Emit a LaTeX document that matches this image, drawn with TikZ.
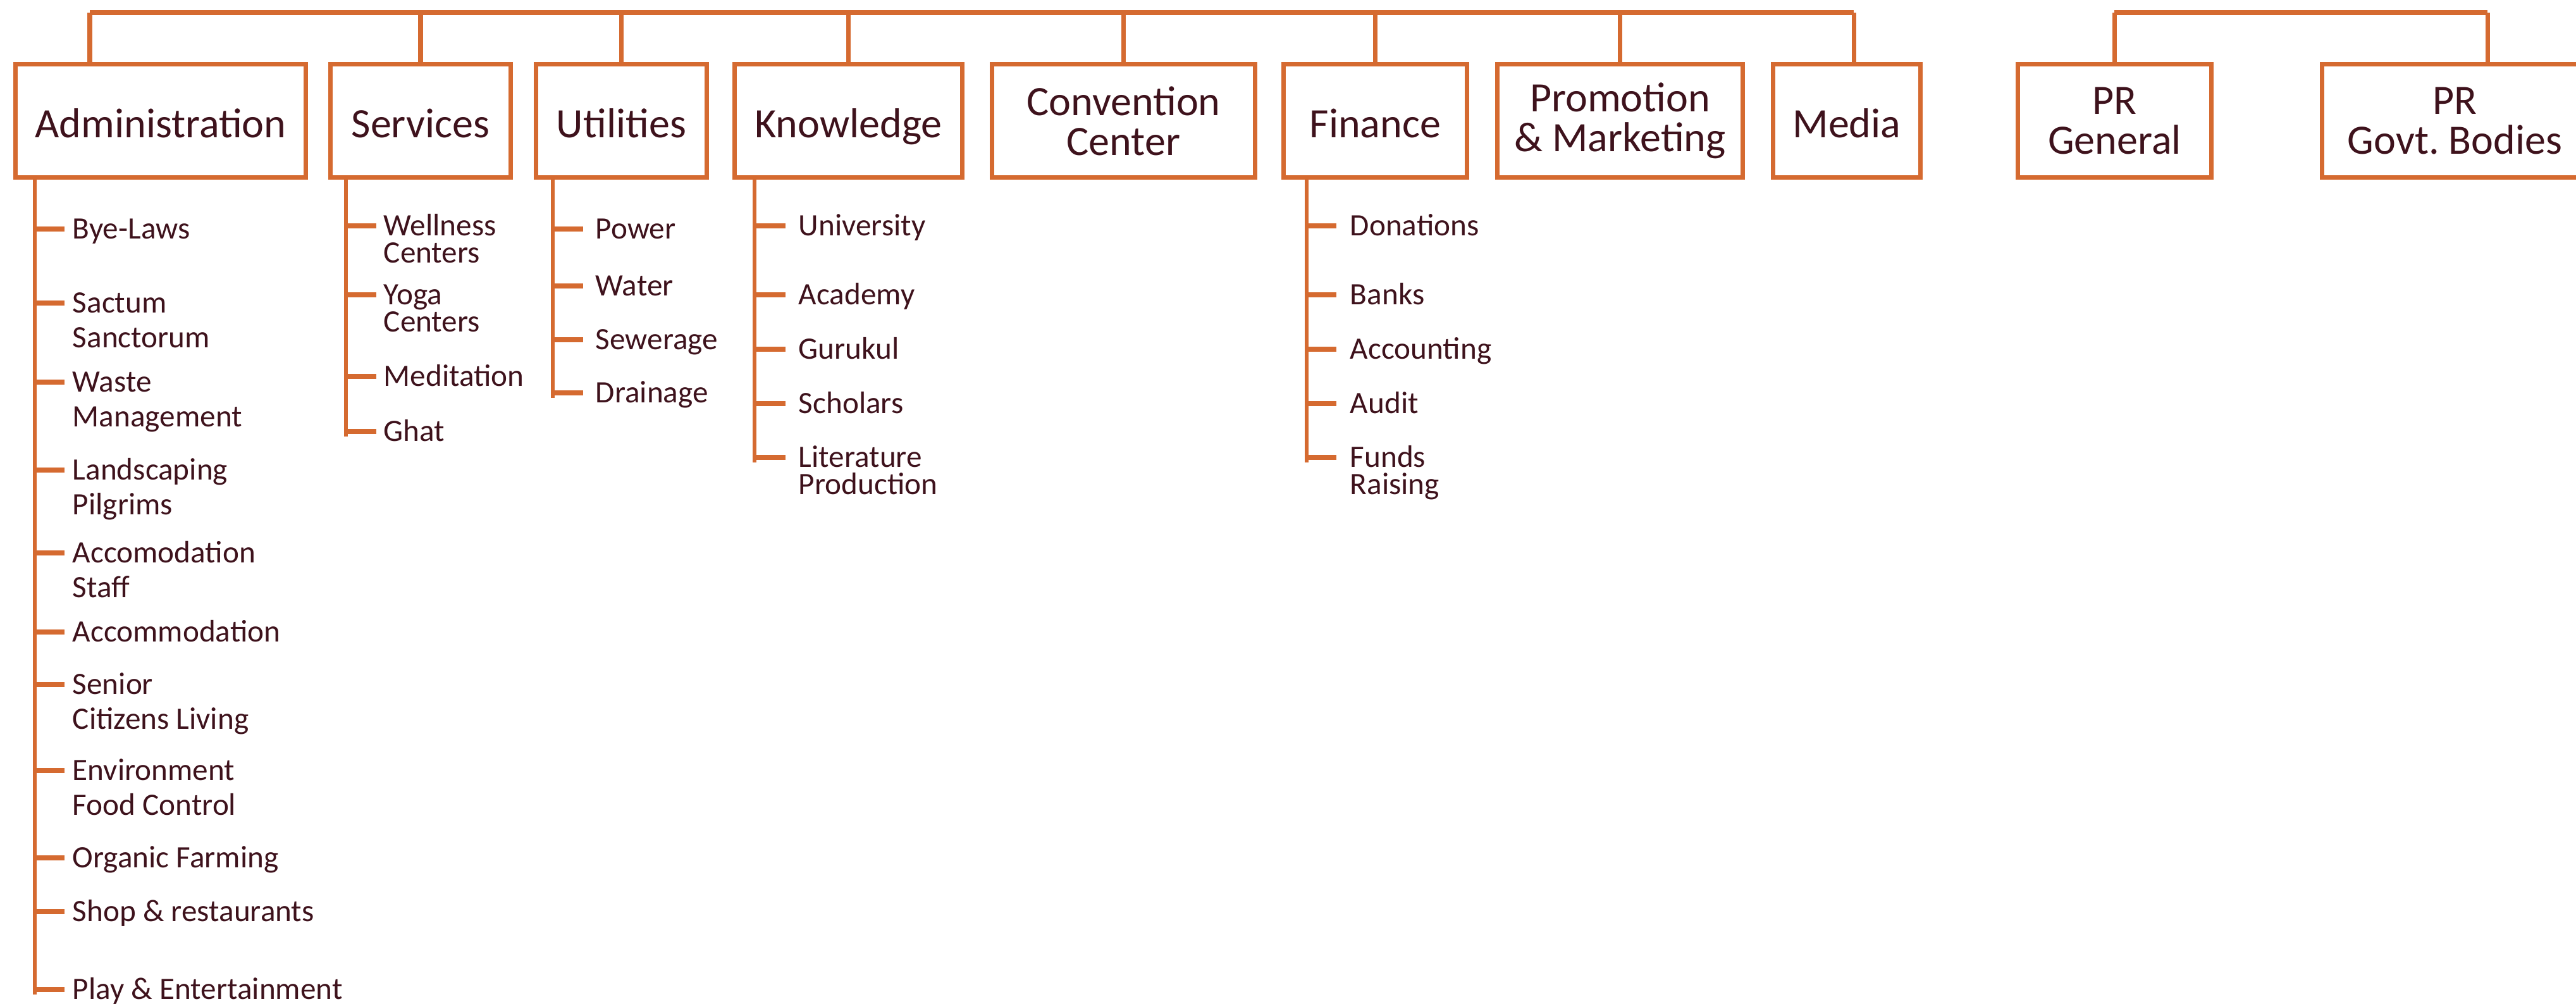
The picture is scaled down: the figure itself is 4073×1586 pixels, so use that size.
\documentclass[tikz,border=0pt]{standalone}
\usepackage{fontspec}
\setmainfont{Carlito}
\usepackage{tikz}

\definecolor{chartline}{RGB}{213,106,48}
\definecolor{charttext}{RGB}{62,18,28}

\begin{document}
\begin{tikzpicture}[x=0.1mm, y=-0.1mm,
		dept/.style={draw=chartline, line width=2pt, text=charttext, inner sep=0pt,
			minimum height=17.9mm, align=center, font=\fontsize{18.8}{17.9}\selectfont},
		single/.style={text height=14.8pt, text depth=0pt},
		bar/.style={draw=chartline, line width=2.3pt},
		drop/.style={draw=chartline, line width=2pt},
		trunk/.style={draw=chartline, line width=1.9pt},
		tick/.style={draw=chartline, line width=2.2pt},
		sub/.style={text=charttext, inner sep=0pt, anchor=base west, align=left,
			font=\fontsize{14}{12.2}\selectfont},
		subwide/.style={sub, font=\fontsize{14}{15.6}\selectfont}]
	\useasboundingbox (0,0) rectangle (4073,1586);

	% department boxes
	\node[dept, single, minimum width=45.9mm] (adm) at (254,191) {Administration};
	\node[dept, single, minimum width=28.5mm] (srv) at (665,191) {Services};
	\node[dept, single, minimum width=27mm] (utl) at (982.5,191) {Utilities};
	\node[dept, single, minimum width=36mm] (knw) at (1341.5,191) {Knowledge};
	\node[dept, minimum width=41.6mm] (conv) at (1776.5,191) {Convention\\Center};
	\node[dept, single, minimum width=29mm] (fin) at (2174.5,191) {Finance};
	\node[dept, minimum width=38.8mm] (prom) at (2561.5,191) {Promotion\\\& Marketing};
	\node[dept, single, minimum width=23.3mm] (med) at (2920,191) {Media};
	\node[dept, minimum width=30.6mm] (prg) at (3343.5,191) {PR\\General};
	\node[dept, minimum width=42mm] (prgov) at (3881.5,191) {PR\\Govt.\ Bodies};

	% top bars
	\coordinate (mainL) at (142,20);
	\coordinate (mainR) at (2931,20);
	\coordinate (prL) at (3343,20);
	\coordinate (prR) at (3933,20);
	\draw[bar] (mainL) -- (mainR);
	\draw[bar] (prL) -- (prR);

	\draw[drop] (mainL) -- (mainL |- adm.north);
	\draw[drop] (srv.north |- mainL) -- (srv.north);
	\draw[drop] (utl.north |- mainL) -- (utl.north);
	\draw[drop] (knw.north |- mainL) -- (knw.north);
	\draw[drop] (conv.north |- mainL) -- (conv.north);
	\draw[drop] (fin.north |- mainL) -- (fin.north);
	\draw[drop] (prom.north |- mainL) -- (prom.north);
	\draw[drop] (mainR) -- (mainR |- med.north);
	\draw[drop] (prL) -- (prL |- prg.north);
	\draw[drop] (prR) -- (prR |- prgov.north);

	% sub lists (\m = extra lines below the first one)
	\coordinate (admtr) at (55,0);
	\coordinate (srvtr) at (547,0);
	\coordinate (utltr) at (874,0);
	\coordinate (knwtr) at (1193,0);
	\coordinate (fintr) at (2066,0);
	\draw[trunk] (adm.south -| admtr) -- ++(0,1288);
	\draw[trunk] (srv.south -| srvtr) -- ++(0,405.5);
	\draw[trunk] (utl.south -| utltr) -- ++(0,344.5);
	\draw[trunk] (knw.south -| knwtr) -- ++(0,446.5);
	\draw[trunk] (fin.south -| fintr) -- ++(0,446.5);

	\foreach \y/\m/\txt [count=\i] in {362/0/Bye-Laws, {479/1/Sactum\\Sanctorum},
			{604/1/Waste\\Management}, {743/1/Landscaping\\Pilgrims}, {874/1/Accomodation\\Staff},
			999/0/Accommodation, {1082/1/Senior\\Citizens Living}, {1218/1/Environment\\Food Control},
			1356/0/Organic Farming, 1441/0/Shop \& restaurants, 1564/0/Play \& Entertainment}
		\draw[tick] (admtr |- 0,\y) -- ++(47,0)
			node[subwide, shift={(9,15.5+\m*54.8)}] (adm\i) {\txt};

	\foreach \y/\m/\txt [count=\i] in {{357/1/Wellness\\Centers}, {466/1/Yoga\\Centers},
			595/0/Meditation, 682/0/Ghat}
		\draw[tick] (srvtr |- 0,\y) -- ++(48,0)
			node[sub, shift={(8,15.5+\m*42.9)}] (srv\i) {\txt};

	\foreach \y/\txt [count=\i] in {362/Power, 452/Water, 537/Sewerage, 621/Drainage}
		\draw[tick] (utltr |- 0,\y) -- ++(48,0) node[sub, shift={(16,15.5)}] (utl\i) {\txt};

	\foreach \y/\m/\txt [count=\i] in {357/0/University, 466/0/Academy, 552/0/Gurukul,
			638/0/Scholars, {723/1/Literature\\Production}}
		\draw[tick] (knwtr |- 0,\y) -- ++(49,0)
			node[sub, shift={(17,15.5+\m*42.9)}] (knw\i) {\txt};

	\foreach \y/\m/\txt [count=\i] in {357/0/Donations, 466/0/Banks, 552/0/Accounting,
			638/0/Audit, {723/1/Funds\\Raising}}
		\draw[tick] (fintr |- 0,\y) -- ++(47,0)
			node[sub, shift={(18,15.5+\m*42.9)}] (fin\i) {\txt};
\end{tikzpicture}
\end{document}
